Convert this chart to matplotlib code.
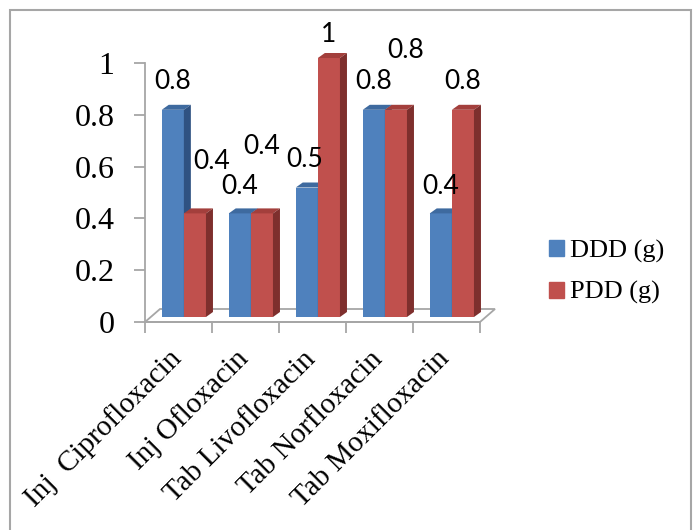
import matplotlib.pyplot as plt
import numpy as np
from matplotlib.patches import Polygon, Rectangle, Patch

# data
categories = ["Inj  Ciprofloxacin", "Inj Ofloxacin", "Tab Livofloxacin",
              "Tab Norfloxacin", "Tab Moxifloxacin"]
ddd = [0.8, 0.4, 0.5, 0.8, 0.4]
pdd = [0.4, 0.4, 1.0, 0.8, 0.8]
yticks = [0, 0.2, 0.4, 0.6, 0.8, 1.0]
ytick_labels = ["0", "0.2", "0.4", "0.6", "0.8", "1"]

# label offsets in pixels (Excel moved some of the red labels around)
ddd_label_off = [(0, 28), (0, 27), (-2, 28), (0, 28), (0, 27)]
pdd_label_off = [(17, 52), (0, 67), (0, 24), (10, 59), (0, 28)]

serif = "Liberation Serif"
gray = "#A6A6A6"
blue = ("#4F81BD", "#3E6A9F", "#2F5282")   # front, top, side
red = ("#C0504D", "#A33F3C", "#7E2F2D")

fig = plt.figure(figsize=(7, 5.3), dpi=100)
ax = fig.add_axes([145 / 700, 1 - 322 / 530, 355 / 700, 259 / 530])
ax.set_xlim(0, 355 / 67)
ax.set_ylim(0, 1)

# 3d depth in data units
px_x = 1 / 67
px_y = 1 / 259
dx, dy = 7 * px_x, 5 * px_y
base = 5 * px_y
bw = 0.33
off = [0.25, 0.58]

# floor
fdx, fdy = 15 * px_x, 13 * px_y
n = len(categories)
ax.add_patch(Polygon([(0, 0), (n, 0), (n + fdx, fdy), (fdx, fdy)], closed=True,
                     fc="white", ec=gray, lw=1.3, zorder=1, clip_on=False))

def bar3d(x0, h, cols, z):
    x1 = x0 + bw
    top = base + h
    ax.bar(x0, h, width=bw, bottom=base, align="edge", color=cols[0], zorder=z,
           clip_on=False)
    ax.add_patch(Polygon([(x0, top), (x1, top), (x1 + dx, top + dy), (x0 + dx, top + dy)],
                         closed=True, fc=cols[1], ec="none", zorder=z, clip_on=False))
    ax.add_patch(Polygon([(x1, base), (x1, top), (x1 + dx, top + dy), (x1 + dx, base + dy)],
                         closed=True, fc=cols[2], ec="none", zorder=z, clip_on=False))

for i in range(n):
    bar3d(i + off[0], ddd[i], blue, 3 + 2 * i)
    bar3d(i + off[1], pdd[i], red, 4 + 2 * i)

for i in range(n):
    for vals, offs, k in ((ddd, ddd_label_off, 0), (pdd, pdd_label_off, 1)):
        v = vals[i]
        ax.annotate(f"{v:g}", (i + off[k] + bw / 2, base + v), xytext=offs[i],
                    textcoords="offset pixels", ha="center", va="center",
                    fontsize=19, family=["Lato", "DejaVu Sans"], zorder=20,
                    annotation_clip=False)

# axes styling
for s in ["top", "right"]:
    ax.spines[s].set_visible(False)
ax.spines["left"].set_color(gray)
ax.spines["left"].set_linewidth(1.3)
ax.spines["bottom"].set_color(gray)
ax.spines["bottom"].set_linewidth(1.3)
ax.spines["bottom"].set_bounds(0, n)

ax.set_yticks(yticks)
ax.set_yticklabels(ytick_labels, family=serif, fontsize=23)
ax.tick_params(axis="y", length=8, color=gray, width=1.3, pad=14)
ax.set_xticks(np.arange(n + 1))
ax.set_xticklabels([])
ax.tick_params(axis="x", length=8, color=gray, width=1.3)

# rotated category labels
for i, c in enumerate(categories):
    ax.annotate(c, (i + 0.5, 0), xytext=(-1, -33), textcoords="offset pixels",
                rotation=45, rotation_mode="anchor", ha="right", va="center",
                fontsize=21, family=serif, annotation_clip=False)

handles = [Patch(color=blue[0]), Patch(color=red[0])]
fig.legend(handles, ["DDD (g)", "PDD (g)"], loc="center left",
           bbox_to_anchor=(549 / 700, 1 - 272 / 530), frameon=False,
           prop={"family": serif, "size": 19}, handlelength=0.55,
           handleheight=0.55, handletextpad=0.25, labelspacing=0.7,
           borderpad=0, borderaxespad=0)

# outer chart border
fig.add_artist(Rectangle((10 / 700, -0.05), 681 / 700, 520 / 530 + 0.05,
                         transform=fig.transFigure, fill=False, ec=gray, lw=1.5))

fig.savefig("out.png", dpi=100)
